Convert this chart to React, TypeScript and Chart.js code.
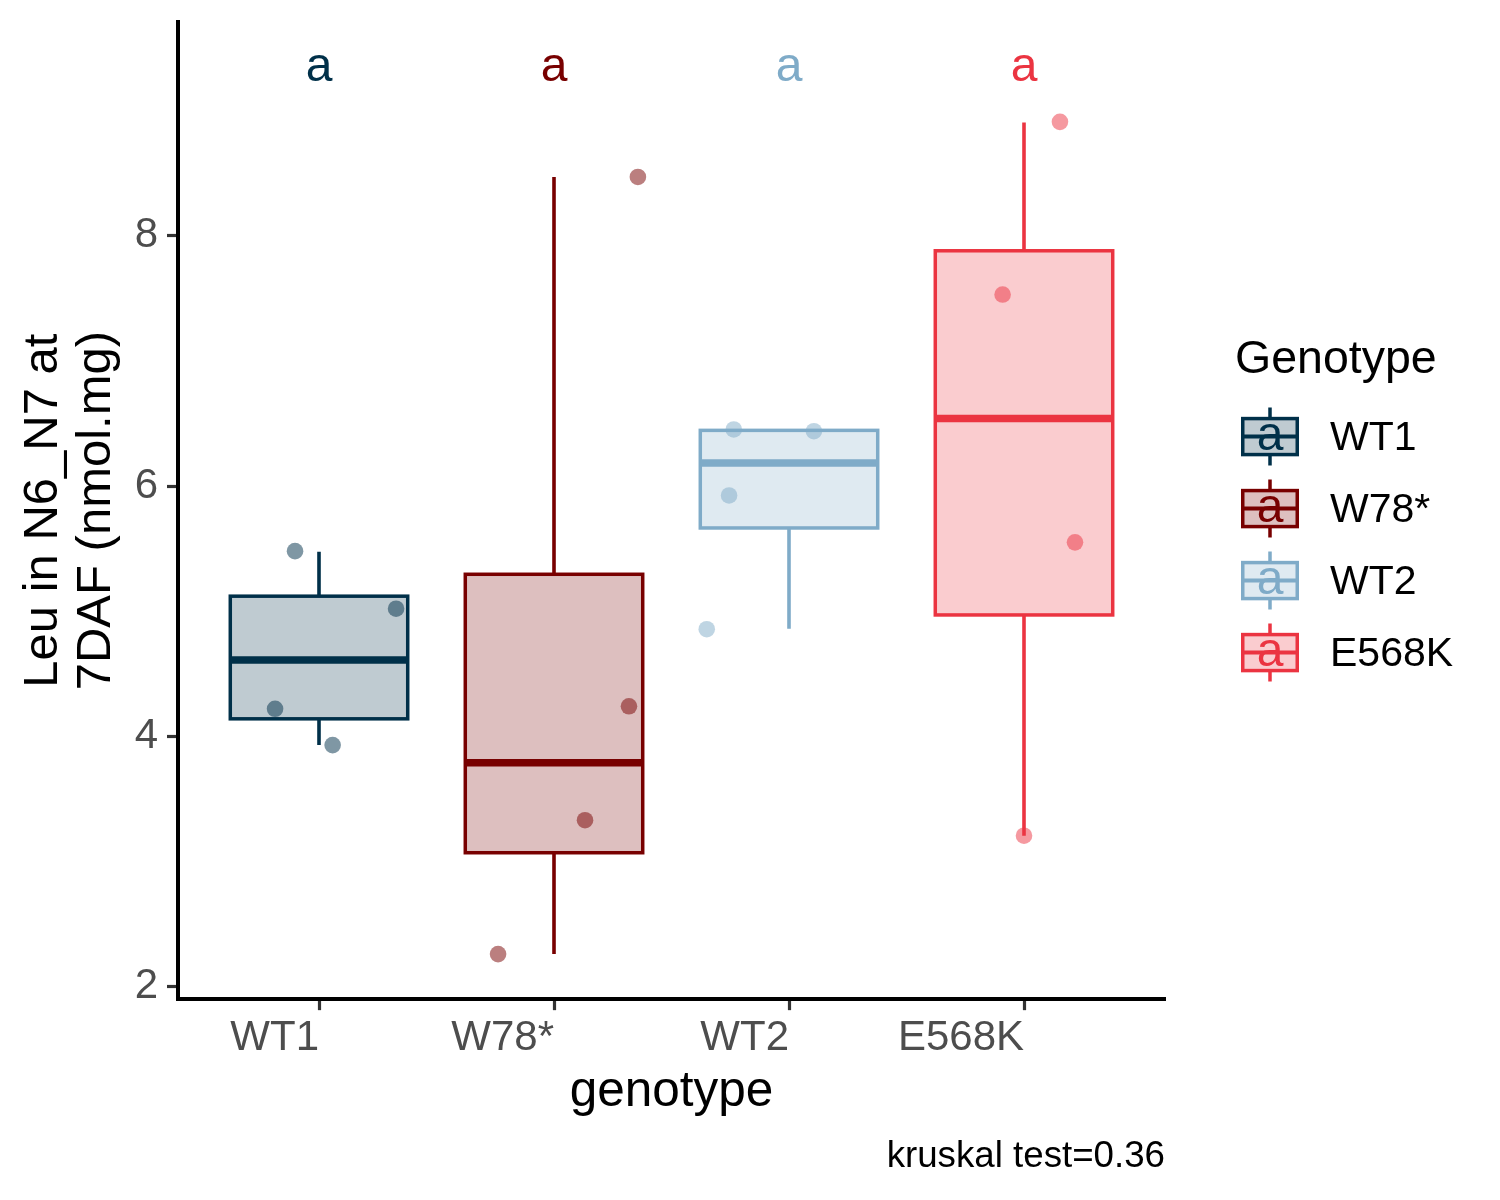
import React, { useEffect, useRef } from "react";
import { Chart, registerables } from "chart.js";

Chart.register(...registerables);

const FONT = "'Liberation Sans', Arial, Helvetica, sans-serif";

// ---- data ----
const categories = ["WT1", "W78*", "WT2", "E568K"];
const groupColors = ["#003049", "#780000", "#7fabc8", "#eb3441"];
const letters = ["a", "a", "a", "a"];
const letterY = 9.34;

// boxplot statistics per genotype
const whiskerLow = [3.93, 2.26, 4.86, 3.206];
const q1 = [4.14, 3.07, 5.665, 4.97];
const median = [4.61, 3.79, 6.185, 6.54];
const q3 = [5.12, 5.295, 6.445, 7.88];
const whiskerHigh = [5.475, 8.47, 6.452, 8.904];

// individual observations (value) and their horizontal jitter (category units)
const wt1Values = [5.48, 5.02, 4.22, 3.93];
const wt1Jitter = [-0.102, 0.328, -0.187, 0.058];
const w78Values = [8.47, 4.24, 3.33, 2.26];
const w78Jitter = [0.357, 0.319, 0.132, -0.238];
const wt2Values = [6.452, 6.438, 5.925, 4.856];
const wt2Jitter = [-0.235, 0.106, -0.255, -0.35];
const e568kValues = [8.91, 7.53, 5.55, 3.206];
const e568kJitter = [0.153, -0.091, 0.217, 0.0];

const pointValues = [wt1Values, w78Values, wt2Values, e568kValues];
const pointJitter = [wt1Jitter, w78Jitter, wt2Jitter, e568kJitter];

const yTicks = [2, 4, 6, 8];
const yMin = 1.9;
const yMax = 9.708;
const xMin = 0.4;
const xMax = 4.6;

const yTitle = ["Leu in N6_N7 at", "7DAF (nmol.mg)"];
const xTitle = "genotype";
const legendTitle = "Genotype";
const caption = "kruskal test=0.36";

const BOX_W = 0.755;

function rgba(hex: string, a: number) {
  const h = hex.replace("#", "");
  const r = parseInt(h.slice(0, 2), 16);
  const g = parseInt(h.slice(2, 4), 16);
  const b = parseInt(h.slice(4, 6), 16);
  return `rgba(${r},${g},${b},${a})`;
}

const boxPlugin = {
  id: "ggBoxes",
  beforeDatasetsDraw(chart: any) {
    const { ctx } = chart;
    const xs = chart.scales.x;
    const ys = chart.scales.y;
    ctx.save();
    categories.forEach((_, i) => {
      const col = groupColors[i];
      const cx = xs.getPixelForValue(i + 1);
      const l = xs.getPixelForValue(i + 1 - BOX_W / 2);
      const r = xs.getPixelForValue(i + 1 + BOX_W / 2);
      const yLo = ys.getPixelForValue(whiskerLow[i]);
      const yQ1 = ys.getPixelForValue(q1[i]);
      const yMed = ys.getPixelForValue(median[i]);
      const yQ3 = ys.getPixelForValue(q3[i]);
      const yHi = ys.getPixelForValue(whiskerHigh[i]);
      ctx.strokeStyle = col;
      ctx.lineCap = "butt";
      ctx.lineJoin = "miter";
      // whiskers
      ctx.lineWidth = 3.6;
      ctx.beginPath();
      ctx.moveTo(cx, yQ3);
      ctx.lineTo(cx, yHi);
      ctx.moveTo(cx, yQ1);
      ctx.lineTo(cx, yLo);
      ctx.stroke();
      // box
      ctx.fillStyle = rgba(col, 0.25);
      ctx.fillRect(l, yQ3, r - l, yQ1 - yQ3);
      ctx.lineWidth = 3.5;
      ctx.strokeRect(l, yQ3, r - l, yQ1 - yQ3);
      // median
      ctx.lineWidth = 7.5;
      ctx.beginPath();
      ctx.moveTo(l, yMed);
      ctx.lineTo(r, yMed);
      ctx.stroke();
    });
    ctx.restore();
  },
};

const letterPlugin = {
  id: "ggLetters",
  afterDatasetsDraw(chart: any) {
    const { ctx } = chart;
    const xs = chart.scales.x;
    const ys = chart.scales.y;
    ctx.save();
    ctx.font = `48px ${FONT}`;
    ctx.textAlign = "center";
    ctx.textBaseline = "middle";
    letters.forEach((t, i) => {
      ctx.fillStyle = groupColors[i];
      ctx.fillText(t, xs.getPixelForValue(i + 1), ys.getPixelForValue(letterY));
    });
    ctx.restore();
  },
};

const legendPlugin = {
  id: "ggLegend",
  afterDraw(chart: any) {
    const { ctx, chartArea } = chart;
    const cy = (chartArea.top + chartArea.bottom) / 2;
    const left = chartArea.right + 70;
    const kx = chartArea.right + 105;
    const labelX = chartArea.right + 165;
    ctx.save();
    ctx.fillStyle = "#000";
    ctx.font = `46.5px ${FONT}`;
    ctx.textAlign = "left";
    ctx.textBaseline = "alphabetic";
    ctx.fillText(legendTitle, left, cy - 138);
    categories.forEach((name, i) => {
      const col = groupColors[i];
      const ky = cy - 74 + 72 * i;
      ctx.strokeStyle = col;
      ctx.lineCap = "butt";
      ctx.lineWidth = 3.5;
      ctx.beginPath();
      ctx.moveTo(kx, ky - 18);
      ctx.lineTo(kx, ky - 29);
      ctx.moveTo(kx, ky + 18);
      ctx.lineTo(kx, ky + 29);
      ctx.stroke();
      ctx.fillStyle = rgba(col, 0.25);
      ctx.fillRect(kx - 27.25, ky - 18, 54.5, 36);
      ctx.strokeRect(kx - 27.25, ky - 18, 54.5, 36);
      ctx.lineWidth = 4;
      ctx.beginPath();
      ctx.moveTo(kx - 27.25, ky);
      ctx.lineTo(kx + 27.25, ky);
      ctx.stroke();
      ctx.fillStyle = col;
      ctx.font = `48px ${FONT}`;
      ctx.textAlign = "center";
      ctx.textBaseline = "middle";
      ctx.fillText(letters[i], kx, ky);
      ctx.fillStyle = "#000";
      ctx.font = `41px ${FONT}`;
      ctx.textAlign = "left";
      ctx.fillText(name, labelX, ky + 2);
    });
    ctx.restore();
  },
};

export default function App() {
  const canvasRef = useRef<HTMLCanvasElement | null>(null);

  useEffect(() => {
    document.body.style.margin = "0";
    const canvas = canvasRef.current;
    if (!canvas) return;

    const datasets = categories.map((name, i) => ({
      type: "scatter" as const,
      label: name,
      data: pointValues[i].map((v, j) => ({ x: i + 1 + pointJitter[i][j], y: v })),
      backgroundColor: rgba(groupColors[i], 0.5),
      borderWidth: 0,
      pointRadius: 8.3,
      pointHoverRadius: 8.3,
    }));

    const chart = new Chart(canvas, {
      type: "scatter",
      data: { datasets },
      options: {
        responsive: false,
        maintainAspectRatio: false,
        animation: false,
        events: [],
        layout: { padding: { left: 0, right: 335, top: 22, bottom: 0 } },
        plugins: {
          legend: { display: false },
          tooltip: { enabled: false },
          subtitle: {
            display: true,
            text: caption,
            position: "bottom",
            align: "end",
            color: "#000",
            font: { family: FONT, size: 36.7, weight: "normal" },
            padding: { top: 0, bottom: 21 },
          },
        },
        scales: {
          x: {
            type: "linear",
            min: xMin,
            max: xMax,
            bounds: "data",
            afterBuildTicks: (s: any) => {
              s.ticks = categories.map((_, i) => ({ value: i + 1 }));
            },
            afterFit: (s: any) => {
              s.height = 135.8;
              s.paddingLeft = 0;
              s.paddingRight = 0;
            },
            ticks: {
              align: "end",
              padding: 3,
              color: "#4d4d4d",
              font: { family: FONT, size: 42 },
              maxRotation: 0,
              minRotation: 0,
              autoSkip: false,
              callback: (v: any) => categories[Math.round(Number(v)) - 1],
            },
            grid: {
              display: true,
              drawOnChartArea: false,
              drawTicks: true,
              tickLength: 11,
              tickColor: "#333333",
              tickWidth: 3.2,
            },
            border: { display: true, color: "#000000", width: 4 },
            title: {
              display: true,
              text: xTitle,
              color: "#000",
              font: { family: FONT, size: 49.5 },
              padding: { top: 0, bottom: 13.4 },
            },
          },
          y: {
            type: "linear",
            min: yMin,
            max: yMax,
            bounds: "data",
            afterBuildTicks: (s: any) => {
              s.ticks = yTicks.map((v) => ({ value: v }));
            },
            afterFit: (s: any) => {
              s.width = 178;
              s.paddingTop = 0;
              s.paddingBottom = 0;
            },
            ticks: {
              padding: 9,
              color: "#4d4d4d",
              font: { family: FONT, size: 42 },
              callback: (v: any) => String(v),
            },
            grid: {
              display: true,
              drawOnChartArea: false,
              drawTicks: true,
              tickLength: 11,
              tickColor: "#333333",
              tickWidth: 3.2,
            },
            border: { display: true, color: "#000000", width: 4 },
            title: {
              display: true,
              text: yTitle,
              color: "#000",
              font: { family: FONT, size: 49, lineHeight: 1.088 },
              padding: { top: 16.35, bottom: 0 },
            },
          },
        },
      } as any,
      plugins: [boxPlugin, letterPlugin, legendPlugin],
    });

    return () => {
      chart.destroy();
    };
  }, []);

  return (
    <div style={{ width: 1500, height: 1200, background: "#ffffff" }}>
      <canvas
        ref={canvasRef}
        width={1500}
        height={1200}
        style={{ display: "block", width: 1500, height: 1200 }}
      />
    </div>
  );
}
